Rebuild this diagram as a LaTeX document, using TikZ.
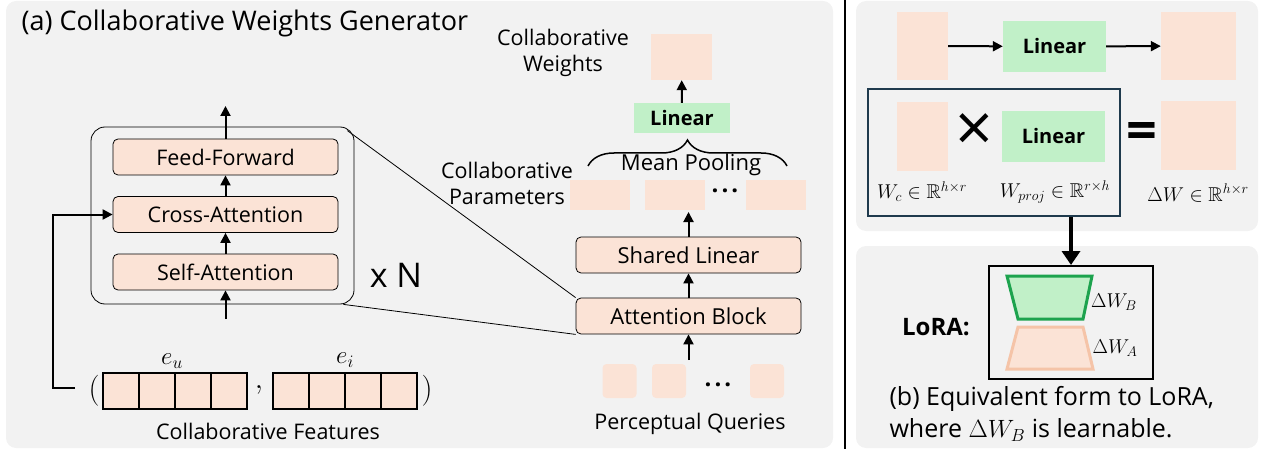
\documentclass[tikz,border=0pt]{standalone}
\usepackage{fix-cm}
\usepackage{amssymb}
\usepackage{fontspec}
\setmainfont{Open Sans}
\usetikzlibrary{arrows.meta,decorations.pathreplacing}

\definecolor{peach}{HTML}{FBE3D6}
\definecolor{mint}{HTML}{C1F0C8}
\definecolor{panel}{HTML}{F2F2F2}
\definecolor{navy}{HTML}{1F3A4D}
\definecolor{leaf}{HTML}{1DA34E}
\definecolor{apricot}{HTML}{F5C4A8}

\begin{document}
\begin{tikzpicture}[x=1pt, y=-1pt,
        >={Triangle[length=10pt,width=10pt]},
        every node/.style={font=\fontsize{21.5}{26}\selectfont},
        blk/.style={draw, rounded corners=5pt, fill=peach, minimum width=225pt,
                    minimum height=36pt, line width=0.8pt},
        sq/.style={fill=peach, inner sep=0},
        qsq/.style={fill=peach, rounded corners=4pt, minimum size=34pt, inner sep=0},
        cell/.style={draw, fill=peach, minimum size=36pt, inner sep=0, line width=1.2pt},
        lin/.style={fill=mint, inner sep=0, font=\fontsize{20}{25}\selectfont\bfseries},
        mathlab/.style={font=\fontsize{20}{25}\selectfont},
        dots/.style={font=\fontsize{24}{24}\selectfont\bfseries},
        flow/.style={->, line width=2pt}]
    \useasboundingbox (0,0) rectangle (1268,449);
    \fill[panel, rounded corners=10pt] (6,1) rectangle (833,448);
    \fill[panel, rounded corners=10pt] (856,1) rectangle (1258,231);
    \fill[panel, rounded corners=10pt] (856,246) rectangle (1258,448);
    \draw[line width=2pt] (845,0) -- (845,449);

    \node[anchor=west, font=\fontsize{27}{32}\selectfont] (title) at (18,23) {(a) Collaborative Weights Generator};

    \node[draw, rounded corners=14pt, minimum width=263pt, minimum height=177pt, line width=0.8pt] (layer) at (222.5,215.5) {};
    \node[blk] (ff) at (225.5,157) {Feed-Forward};
    \node[blk] (cross) at (225.5,214.5) {Cross-Attention};
    \node[blk] (self) at (225.5,272) {Self-Attention};
    \coordinate (up) at (225.5,106);
    \coordinate (low) at (225.5,319);
    \draw[flow] (low) -- (self);
    \draw[flow] (self) -- (cross);
    \draw[flow] (cross) -- (ff);
    \draw[flow] (ff) -- (up);
    \node[font=\fontsize{34}{40}\selectfont] (rep) at (396,275) {x N};

    \foreach \i in {0,...,3} {
        \node[cell] (u\i) at (121+36*\i,391) {};
        \node[cell] (v\i) at (291+36*\i,391) {};
    }
    \node[font=\fontsize{31}{34}\selectfont] (lp) at (94,391) {$($};
    \node[font=\fontsize{31}{34}\selectfont] (rp) at (427,391) {$)$};
    \node[font=\fontsize{30}{30}\selectfont] (comma) at (259,390) {$,$};
    \node[font=\fontsize{25}{30}\selectfont] (eu) at (172,361) {$e_u$};
    \node[font=\fontsize{25}{30}\selectfont] (ei) at (345,360) {$e_i$};
    \node (feat) at (268,431) {Collaborative Features};
    \coordinate (src) at (75,388);
    \draw[flow] (src) -- ++(-22,0) |- (cross.west);

    \node[blk, font=\fontsize{22}{26}\selectfont] (attn) at (688.5,316) {Attention Block};
    \node[blk, font=\fontsize{22}{26}\selectfont] (shared) at (688.5,255) {Shared Linear};
    \draw[line width=0.8pt] ([shift={(-7,4)}]layer.north east) -- (attn.north west);
    \draw[line width=0.8pt] ([shift={(-11,0)}]layer.south east) -- (attn.south west);

    \node[qsq] (q1) at (619.5,381) {};
    \node[qsq] (q2) at (669,381) {};
    \node[qsq] (q3) at (767,381) {};
    \node[dots] (qdots) at (718,385) {.\kern3pt.\kern3pt.};
    \node (query) at (690,424) {Perceptual Queries};
    \coordinate (qin) at (688.5,360);
    \draw[flow] (qin) -- (attn);
    \draw[flow] (attn) -- (shared);

    \node[sq, minimum width=60pt, minimum height=30pt] (p1) at (600,195) {};
    \node[sq, minimum width=60pt, minimum height=30pt] (p2) at (675,195) {};
    \node[sq, minimum width=60pt, minimum height=30pt] (p3) at (776,195) {};
    \node[dots] (pdots) at (725,191) {.\kern3pt.\kern3pt.};
    \coordinate (pin) at (688.5,212);
    \draw[flow] (shared) -- (pin);
    \node[align=center] (params) at (507,183) {Collaborative\\Parameters};
    \node[font=\fontsize{22}{26}\selectfont] (pool) at (691,165) {Mean Pooling};
    \draw[decorate, decoration={brace, amplitude=26pt}, line width=1.5pt] (588,166) -- (787,166);

    \node[lin, minimum width=96pt, minimum height=30pt] (lin) at (682,118) {Linear};
    \node[sq, minimum width=61pt, minimum height=46pt] (weights) at (681.5,57) {};
    \draw[flow] (lin) -- (weights);
    \node[align=center] (wlabel) at (563,53) {Collaborative\\Weights};

    \node[sq, minimum width=51pt, minimum height=68pt] (x) at (922.5,46) {};
    \node[lin, minimum width=103pt, minimum height=51pt] (lin1) at (1054.5,46.5) {Linear};
    \node[sq, minimum width=75pt, minimum height=68pt] (y) at (1198.5,46) {};
    \draw[flow] (x) -- (lin1);
    \draw[flow] (lin1) -- (y);

    \node[draw=navy, line width=2pt, minimum width=252pt, minimum height=127pt] (prod) at (994,152.5) {};
    \node[sq, minimum width=51pt, minimum height=69pt] (wc) at (922.5,136.5) {};
    \node[lin, minimum width=103pt, minimum height=51pt] (lin2) at (1053.5,136.5) {Linear};
    \node[sq, minimum width=75pt, minimum height=69pt] (dw) at (1198.5,135.5) {};
    \node[font=\fontsize{66}{66}\selectfont] (times) at (974,133) {×};
    \node[font=\fontsize{54}{54}\selectfont\bfseries] (eq) at (1142,136) {=};
    \node[mathlab] (wclab) at (922,192) {$W_c\in\mathbb{R}^{h\times r}$};
    \node[mathlab] (wplab) at (1055,192) {$W_{proj}\in\mathbb{R}^{r\times h}$};
    \node[mathlab] (dwlab) at (1198,193) {$\Delta W\in\mathbb{R}^{h\times r}$};

    \node[draw, line width=2pt, minimum width=164pt, minimum height=113pt] (lora) at (1071,322.5) {};
    \draw[-{Triangle[length=14pt,width=18pt]}, line width=4.5pt] (prod.south -| lora.north) -- (lora.north);
    \draw[leaf, fill=mint, line width=3pt] (1007,276) -- (1092,276) -- (1083,319) -- (1018,319) -- cycle;
    \draw[apricot, fill=peach, line width=3pt] (1018,327) -- (1083,327) -- (1093,369) -- (1007,369) -- cycle;
    \node[mathlab] (dwb) at (1114,302) {$\Delta W_B$};
    \node[mathlab] (dwa) at (1115,348) {$\Delta W_A$};
    \node[font=\fontsize{24}{28}\selectfont\bfseries] (lorat) at (936,327) {LoRA:};
    \node[anchor=west, align=left, font=\fontsize{25}{32}\selectfont] (capb) at (886,414) {(b) Equivalent form to LoRA,\\where $\Delta W_B$ is learnable.};
\end{tikzpicture}
\end{document}
